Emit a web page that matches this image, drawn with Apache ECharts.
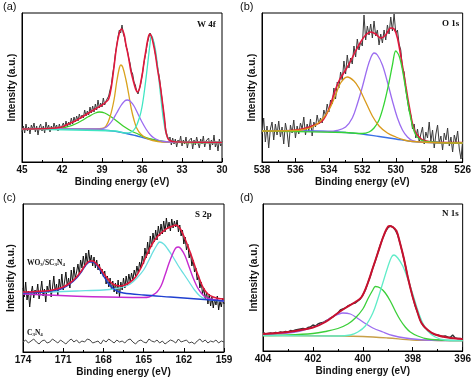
<!DOCTYPE html>
<html><head><meta charset="utf-8">
<script src="https://cdn.jsdelivr.net/npm/echarts@6/dist/echarts.min.js"></script>
<style>html,body{margin:0;padding:0;background:#fff}#c{width:474px;height:383px}</style>
</head><body><div id="c"></div>
<script>
// ---------- Panel (a) W 4f : binding energy 45 -> 30 eV ----------
var rawA = [30,36,29,38,31,35,28,37,33,39,30,36,27,35,38,31,36,29,40,33,37,30,36,32,39,34,37,31,38,33,36,39,34,41,35,40,37,44,38,45,40,46,41,48,43,47,44,52,46,51,47,55,49,56,50,58,52,62,54,59,55,64,57,61,63,66,72,77,88,96,108,116,125,132,129,137,128,124,116,112,104,99,91,88,80,77,71,68,73,78,86,95,103,110,119,124,129,126,123,118,108,101,92,85,74,63,52,40,31,26,22,25,17,24,18,23,15,22,19,26,16,22,18,25,14,21,19,24,13,22,17,25,19,14,23,18,26,15,21,19,24,12,22,17,27,15,20,11,23,16,21];
var baseA = [[45,33],[41,33],[39.5,32.5],[38.5,31.5],[37.5,29.5],[36.5,26.5],[35.5,23],[34.5,20.5],[33.5,19.7],[30,19.5]];
var greenA = [[45,33],[42.5,33.5],[42,34],[41.5,35.5],[41,38],[40.5,41.5],[40,45.5],[39.5,49],[39.2,50],[38.8,49],[38.3,45],[37.8,40],[37.3,35],[36.8,31],[36.3,28],[35.8,25],[35,22],[34,20],[30,19.5]];
var orangeA = [[45,33],[39.5,33],[39,33.5],[38.7,36],[38.4,45],[38.1,62],[37.9,80],[37.7,94],[37.6,97],[37.45,95],[37.2,82],[37,68],[36.8,53],[36.6,42],[36.4,34],[36.1,28],[35.7,24],[35.2,21.5],[34.5,20],[30,19.5]];
var purpleA = [[45,33],[39.2,33],[38.8,34],[38.5,37],[38.2,42],[37.9,49],[37.6,56],[37.3,61],[37.1,62],[36.9,61],[36.6,56],[36.3,48],[36,40],[35.7,33],[35.4,27.5],[35.1,24],[34.8,22],[34.4,20.5],[33.5,19.7],[30,19.5]];
var cyanA = [[45,33],[38,31],[37.2,29],[36.8,30],[36.5,34],[36.2,44],[36,55],[35.8,73],[35.6,95],[35.4,118],[35.3,126],[35.2,124],[35,113],[34.8,92],[34.6,66],[34.4,43],[34.2,29],[34,23],[33.7,20.5],[33,19.7],[30,19.5]];
var redA = [[45,33],[43,33.5],[42,35],[41.7,37],[41,41],[40.5,45],[40,49],[39.5,53],[39,57],[38.7,60],[38.5,63],[38.3,75],[38.1,95],[37.9,116],[37.7,129],[37.53,133],[37.35,128],[37.2,117],[37,104],[36.85,92],[36.65,81],[36.48,73],[36.35,70],[36.2,73],[36.1,79],[35.95,90],[35.85,100],[35.7,112],[35.6,120],[35.43,128],[35.3,126],[35.18,120],[35,108],[34.85,94],[34.65,78],[34.47,60],[34.3,42],[34.22,31],[34.1,25],[33.97,22],[33.6,20.3],[33,20],[30,19.5]];

// ---------- Panel (b) O 1s : 538 -> 526 eV ----------
var rawB = [28,44,20,36,14,33,40,22,38,27,41,25,35,18,39,30,15,37,29,42,24,36,28,39,33,45,27,38,31,43,26,40,35,47,38,44,39,52,46,58,50,62,58,74,63,80,74,90,82,101,88,107,94,104,98,116,105,123,112,120,116,147,122,136,127,138,124,141,126,132,117,128,119,132,122,137,128,145,131,148,129,132,118,112,94,90,72,70,51,47,33,38,24,33,20,28,35,18,30,24,40,21,32,14,28,37,19,26,12,29,22,34,16,25,10,27,20,31,13,3,22];
var blueB = [[538,31],[535,31],[534,30.5],[533,29.5],[532,28],[531,25.5],[530,23],[529,20.5],[528,19.5],[526,19]];
var orangeB = [[538,31],[536,31.5],[535.5,32.5],[535,35],[534.5,41],[534,52],[533.6,67],[533.3,79],[532.9,85],[532.5,81],[532.2,74],[531.8,60],[531.4,46],[531,36],[530.5,29],[530,25],[529.5,22],[529,20.5],[528,19.5],[526,19]];
var purpleB = [[538,31],[534,30.5],[533.5,31.5],[533,35],[532.6,44],[532.3,58],[532,75],[531.7,94],[531.5,104],[531.3,109],[531.1,107],[530.8,97],[530.5,80],[530.2,61],[529.9,44],[529.6,32],[529.3,25],[529,21.5],[528.5,20],[526,19]];
var greenB = [[538,31],[533,29.5],[532,28.5],[531.6,30],[531.3,34],[531,42],[530.7,58],[530.4,80],[530.2,97],[530,111],[529.8,106],[529.6,92],[529.4,72],[529.2,52],[529,36],[528.8,27],[528.5,22],[528,20],[526,19]];
var redB = [[538,31],[537,31],[536,32],[535.5,33.5],[535,36],[534.4,41],[534,53],[533.7,68],[533.4,81],[533,92],[532.7,101],[532.4,111],[532.1,120],[531.8,127],[531.5,130],[531.2,128],[530.9,124],[530.6,127],[530.3,134],[530.1,133],[529.9,124],[529.6,96],[529.4,76],[529.2,56],[528.9,32],[528.6,25],[528.4,22],[528,20.5],[527,19.5],[526,19.5]];

// ---------- Panel (c) S 2p : 174 -> 159 eV ----------
var rawC = [64,55,70,52,61,45,58,66,54,62,57,68,53,60,71,56,63,50,66,59,72,55,64,76,60,68,57,73,63,78,62,70,80,66,74,64,82,70,85,74,80,88,78,92,84,96,85,99,88,102,90,97,86,95,84,92,82,88,78,83,75,81,68,76,65,74,62,71,60,69,58,72,55,70,62,74,64,76,67,78,70,79,72,82,76,86,79,90,84,96,88,104,94,110,98,116,105,119,110,122,112,126,116,128,118,131,120,134,123,130,121,133,124,131,125,132,120,127,116,122,108,115,102,108,94,100,86,92,80,84,72,77,64,70,58,64,52,60,48,58,46,55,44,53,47,56,42,51,45,54,48];
var c3n4C = [10,12,9,11,13,10,8,11,12,9,10,13,11,9,12,10,8,11,13,10,12,9,11,10,13,12,9,10,11,8,12,10,13,11,9,12,10,11,9,12,13,10,8,11,12,10,9,13,11,10,12,9,11,8,10,12,11,9,13,10,11,12,9,10,8,11,13,10,12,9,11,10,12,9,11,10];
var magentaC = [[174,58],[165,54.5],[164.6,55],[164.3,57],[164,60],[163.7,66],[163.4,77],[163.1,89],[162.8,99],[162.6,104],[162.4,105],[162.2,103],[161.9,96],[161.6,85],[161.3,74],[161,65],[160.7,59],[160.4,55],[160,53],[159,51]];
var blueC = [[174,59],[172.5,60],[171.5,62],[171,64],[170.5,68],[170,74],[169.6,81],[169.3,87],[169,90],[168.8,90],[168.5,87],[168.2,81],[167.9,74],[167.6,68],[167.3,64],[167,61],[166.5,59],[165,57],[163,55],[161,53],[159,51]];
var cyanC = [[174,59],[172,60],[170,61],[168,62],[167,63.5],[166.5,65],[166,68],[165.5,74],[165,82],[164.6,92],[164.3,100],[164,107],[163.8,110],[163.5,108],[163.2,103],[162.8,95],[162.4,86],[162,78],[161.6,70],[161.2,62],[160.8,56],[160.4,53],[160,52],[159,51]];
var redC = [[174,60],[173,60.5],[172,61.5],[171.5,63],[171,65],[170.5,69],[170,75],[169.6,82],[169.3,88],[169,91],[168.8,91],[168.5,88],[168.2,83],[167.9,77],[167.6,72],[167.3,68],[167,66.5],[166.7,66],[166.4,67],[166,70],[165.6,75],[165.2,84],[164.8,96],[164.4,107],[164,115],[163.6,120],[163.2,124],[162.8,126],[162.6,127],[162.3,124],[162,116],[161.7,106],[161.4,95],[161.1,83],[160.8,72],[160.5,63],[160.2,58],[159.8,55],[159.4,53.5],[159,53]];

// ---------- Panel (d) N 1s : 404 -> 396 eV ----------
var rawD = [19,17,17.5,18,17.5,18.5,18,19,18.5,19.5,19,20.5,20,21,21.5,22,22.5,22,23.5,24,26,25,27,28,28.5,30,31,33,34,36,38,41,42,43,45,46,47.5,48,50,52,56,61,68,75,83,90,98,106,113,119,123,125,124,121,116,107,97,86,74,64,54,45,38,31,26,23,21,19,17.5,16.5,16,15,14.5,15,14,13.5,16,13,12.5,12.5,12];
var baseD = [[404,15.5],[401,15],[400,14.5],[399,13],[398,11],[397,10.5],[396,10.3]];
var purpleD = [[404,16.5],[403,18],[402.5,20],[402,23.5],[401.6,28],[401.3,33],[401,36.5],[400.8,38],[400.5,37],[400.2,32.5],[399.9,27.5],[399.6,23],[399.2,19],[398.8,15.5],[398.3,13],[397.5,11],[396,10.3]];
var greenD = [[404,15.5],[403,16],[402,17.5],[401.5,19.5],[401,22.5],[400.6,27],[400.3,33],[400,42],[399.8,52],[399.6,61],[399.5,64.5],[399.3,63],[399.1,58],[398.9,50],[398.7,40],[398.5,31],[398.3,24],[398.1,19],[397.8,15],[397.4,12],[396.5,10.5],[396,10.3]];
var cyanD = [[404,15.5],[401,15],[400.5,16],[400.2,19],[399.9,25],[399.6,38],[399.4,52],[399.2,68],[399,84],[398.85,94],[398.75,96],[398.6,93],[398.4,85],[398.2,72],[398,57],[397.8,41],[397.6,28],[397.4,20],[397.1,14],[396.7,11],[396,10.3]];
var redD = [[404,17],[403,19],[402,23.5],[401.5,29],[401,38],[400.7,43],[400.3,49],[400.05,54],[399.8,68],[399.6,83],[399.4,98],[399.2,113],[399.05,122],[398.95,125],[398.8,124],[398.65,120],[398.5,107],[398.35,92],[398.2,74],[398,54],[397.8,38],[397.65,28],[397.4,21],[397.1,16.5],[396.6,13.5],[396,12]];

// axis settings
var xMin = [30, 526, 159, 396], xMax = [45, 538, 174, 404], xStep = [3, 2, 3, 2];
var panelLetters = ['(a)', '(b)', '(c)', '(d)'];
var elementLabels = ['W 4f', 'O 1s', 'S 2p', 'N 1s'];

function toPairs(start, end, vals) {
  var n = vals.length;
  return vals.map(function (v, i) { return [start + (end - start) * i / (n - 1), v]; });
}

var grids = [
  {left: 22, top: 13, width: 200, height: 149},
  {left: 262, top: 13, width: 201, height: 149},
  {left: 23, top: 204, width: 201, height: 148},
  {left: 263, top: 204, width: 201, height: 147}
];
var yGaps = [5, 5, 7, 4];

var chart = echarts.init(document.getElementById('c'), null, {renderer: 'canvas'});
var font = 'Liberation Sans, Arial, sans-serif';
var xAxes = [], yAxes = [];
grids.forEach(function (g, i) {
  g.show = true; g.borderColor = '#000'; g.borderWidth = 1; g.containLabel = false;
  xAxes.push({
    gridIndex: i, type: 'value', inverse: true, min: xMin[i], max: xMax[i], interval: xStep[i],
    name: 'Binding energy (eV)', nameLocation: 'middle', nameGap: 15,
    nameTextStyle: {fontFamily: font, fontWeight: 'bold', fontSize: 10, color: '#111'},
    axisLine: {lineStyle: {color: '#000', width: 1}},
    axisTick: {inside: true, length: 4, lineStyle: {color: '#000'}},
    minorTick: {show: true, splitNumber: 2, length: 2, lineStyle: {color: '#000'}},
    axisLabel: {margin: 3, fontFamily: font, fontWeight: 'bold', fontSize: 10, color: '#111'},
    splitLine: {show: false}
  });
  yAxes.push({
    gridIndex: i, type: 'value', min: 0, max: g.height,
    name: 'Intensity (a.u.)', nameLocation: 'middle', nameGap: yGaps[i],
    nameTextStyle: {fontFamily: font, fontWeight: 'bold', fontSize: 10, color: '#111'},
    axisLine: {show: true, lineStyle: {color: '#000', width: 1}},
    axisTick: {show: false}, axisLabel: {show: false}, splitLine: {show: false}
  });
});

function ln(idx, data, color, width) {
  return {type: 'line', xAxisIndex: idx, yAxisIndex: idx, data: data, showSymbol: false,
    symbol: 'none', smooth: false, lineStyle: {color: color, width: width}, silent: true};
}
function sm(idx, data, color, width) {
  var s = ln(idx, data, color, width); s.smooth = 0.35; return s;
}

var series = [
  ln(0, toPairs(45, 30, rawA), '#3a3a3a', 1),
  sm(0, baseA, '#2f6fe0', 1.3),
  sm(0, greenA, '#3ccf2a', 1.3),
  sm(0, orangeA, '#d9a21c', 1.3),
  sm(0, purpleA, '#9b6cf0', 1.3),
  sm(0, cyanA, '#3fe6c3', 1.3),
  sm(0, redA, '#e0183c', 1.6),

  ln(1, toPairs(538, 526, rawB), '#3a3a3a', 1),
  sm(1, blueB, '#3a70e6', 1.3),
  sm(1, redB, '#e0183c', 1.6),
  sm(1, purpleB, '#9b6cf0', 1.3),
  sm(1, greenB, '#35d535', 1.3),
  sm(1, orangeB, '#d99a1c', 1.3),

  ln(2, toPairs(174, 159, rawC), '#111', 1),
  ln(2, toPairs(174, 159, c3n4C), '#444', 1),
  sm(2, cyanC, '#6adfe0', 1.3),
  sm(2, magentaC, '#c62ad0', 1.4),
  sm(2, blueC, '#1f3fd0', 1.4),
  sm(2, redC, '#e0183c', 1.6),

  ln(3, toPairs(404, 396, rawD), '#333', 1.4),
  sm(3, baseD, '#c8a048', 1.3),
  sm(3, purpleD, '#9b6cf0', 1.3),
  sm(3, greenD, '#3ccf3a', 1.3),
  sm(3, cyanD, '#60ecc8', 1.3),
  sm(3, redD, '#c8102e', 2)
];

var graphics = [];
var letterPos = [[3, 1], [240, 1], [3, 192], [240, 192]];
var elemPos = [[197, 20], [442, 19], [195, 210], [442, 209]];
for (var i = 0; i < 4; i++) {
  graphics.push({type: 'text', left: letterPos[i][0], top: letterPos[i][1],
    style: {text: panelLetters[i], font: '11px ' + font, fill: '#111'}});
  graphics.push({type: 'text', left: elemPos[i][0], top: elemPos[i][1],
    style: {text: elementLabels[i], font: 'bold 9px "Liberation Serif", "Times New Roman", serif', fill: '#111'}});
}
graphics.push({type: 'text', left: 27, top: 259, style: {
  text: '{b|WO}{s|3}{b|/SC}{s|3}{b|N}{s|4}',
  rich: {b: {font: 'bold 7.5px "Liberation Serif", serif', fill: '#111'},
         s: {font: 'bold 5px "Liberation Serif", serif', fill: '#111', padding: [4, 0, 0, 0]}}}});
graphics.push({type: 'text', left: 27, top: 329, style: {
  text: '{b|C}{s|3}{b|N}{s|4}',
  rich: {b: {font: 'bold 7.5px "Liberation Serif", serif', fill: '#111'},
         s: {font: 'bold 5px "Liberation Serif", serif', fill: '#111', padding: [4, 0, 0, 0]}}}});

chart.setOption({
  animation: false,
  backgroundColor: '#fff',
  grid: grids,
  xAxis: xAxes,
  yAxis: yAxes,
  series: series,
  graphic: graphics
});
</script>
</body></html>
